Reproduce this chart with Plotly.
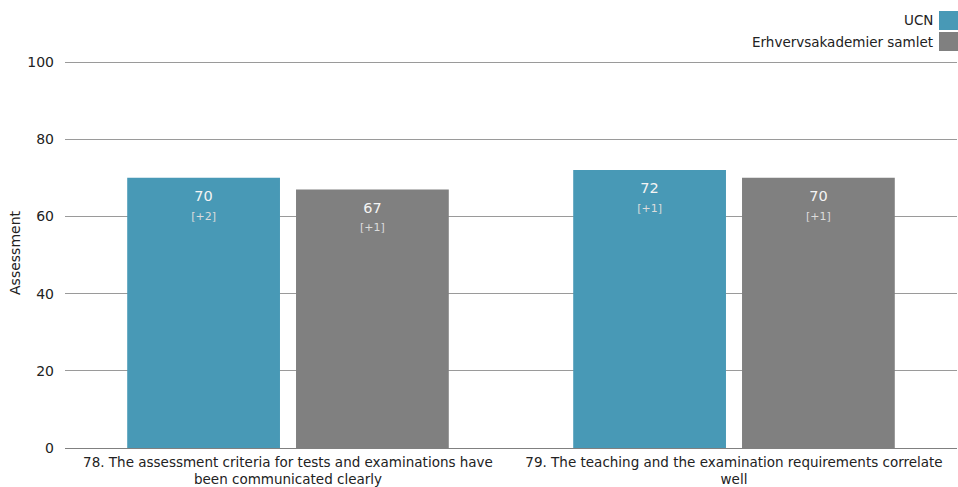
import plotly.graph_objects as go

categories = ["78. The assessment criteria for tests and examinations have<br>been communicated clearly",
              "79. The teaching and the examination requirements correlate<br>well"]
series_names = ["UCN", "Erhvervsakademier samlet"]
ucn_values = [70, 72]
ucn_diffs = ["+2", "+1"]
all_values = [67, 70]
all_diffs = ["+1", "+1"]
colors = ["#4899b6", "#808080"]
y_ticks = [0, 20, 40, 60, 80, 100]

FONT = "DejaVu Sans, sans-serif"
xs = list(range(len(categories)))

fig = go.Figure()
for name, vals, diffs, col in [(series_names[0], ucn_values, ucn_diffs, colors[0]),
                               (series_names[1], all_values, all_diffs, colors[1])]:
    fig.add_trace(go.Bar(
        x=xs, y=vals, name=name, offsetgroup=name,
        marker=dict(color=col, line=dict(width=0)),
        showlegend=False, hoverinfo="skip",
    ))
for name, vals, diffs in [(series_names[0], ucn_values, ucn_diffs),
                          (series_names[1], all_values, all_diffs)]:
    fig.add_trace(go.Scatter(
        x=xs, y=vals, mode="markers+text", offsetgroup=name,
        marker=dict(size=18, opacity=0),
        text=[f"{v}<br><span style='font-size:11px;color:#dcdcdc'>[{d}]</span>" for v, d in zip(vals, diffs)],
        textposition="bottom center",
        textfont=dict(color="#f4f4f4", size=14.5, family=FONT),
        showlegend=False, hoverinfo="skip",
    ))

fig.update_layout(
    width=958, height=487,
    margin=dict(l=65, r=1, t=58, b=39),
    paper_bgcolor="white", plot_bgcolor="white",
    barmode="group", bargap=0.243, bargroupgap=0.095,
    scattermode="group", scattergap=0.243,
    font=dict(family=FONT, size=13, color="#222"),
    xaxis=dict(tickmode="array", tickvals=xs, ticktext=categories,
               range=[-0.5, 1.5], showgrid=False, showline=False, ticks="",
               tickangle=0, tickfont=dict(size=13.5), ticklabelstandoff=4, zeroline=False),
    yaxis=dict(range=[0, 101.04], tickvals=y_ticks, showgrid=True, gridcolor="#9a9a9a",
               gridwidth=1, zeroline=True, zerolinecolor="#808080", zerolinewidth=1,
               showline=False, ticks="", tickfont=dict(size=14), ticklabelstandoff=10,
               title=dict(text="Assessment", font=dict(size=14), standoff=3)),
)

# legend (text right-aligned, colour box to the right), positioned in paper coords
shapes = []
annotations = []
plot_top, plot_bot = 58, 448
H = plot_bot - plot_top
for i, (name, col) in enumerate(zip(series_names, colors)):
    top = 11 + i * 21
    bottom = top + 19
    py_top = (plot_bot - top) / H
    py_bot = (plot_bot - bottom) / H
    shapes.append(dict(type="rect", xref="paper", yref="paper",
                       x0=(939 - 65) / 892, x1=(958 - 65) / 892,
                       y0=py_bot, y1=py_top, fillcolor=col, line=dict(width=0),
                       layer="above"))
    annotations.append(dict(xref="paper", yref="paper", x=(935 - 65) / 892,
                            y=(py_top + py_bot) / 2, text=name, showarrow=False,
                            xanchor="right", yanchor="middle",
                            font=dict(size=13.5, color="#222", family=FONT)))
fig.update_layout(shapes=shapes, annotations=annotations)

fig.write_html("out.html", config={"displayModeBar": False},
               post_script="document.body.style.margin='0px';")
